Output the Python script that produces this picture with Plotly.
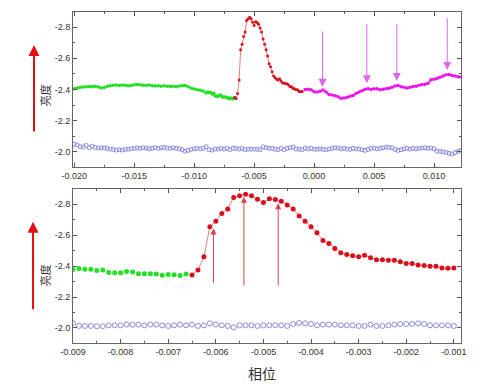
import plotly.graph_objects as go

# ---------------- data ----------------
# top panel, left part (x from -0.020, step 0.00025)
TOP_LEFT_X0, TOP_STEP = -0.020, 0.00025
top_green_left = [-2.405, -2.410, -2.414, -2.416, -2.418, -2.419, -2.417, -2.421, -2.416, -2.410,
                  -2.412, -2.420, -2.424, -2.427, -2.428, -2.426, -2.429, -2.427, -2.423, -2.426,
                  -2.430, -2.432, -2.430, -2.427, -2.425, -2.428, -2.424, -2.422, -2.423, -2.421,
                  -2.424, -2.420, -2.419, -2.421, -2.418, -2.422, -2.424, -2.425, -2.418, -2.408,
                  -2.403, -2.398, -2.395, -2.390]
top_blue_left = [-2.049, -2.045, -2.034, -2.030, -2.041, -2.026, -2.036, -2.028, -2.024, -2.026,
                 -2.024, -2.022, -2.017, -2.015, -2.011, -2.013, -2.011, -2.015, -2.017, -2.019,
                 -2.022, -2.024, -2.022, -2.026, -2.024, -2.019, -2.022, -2.026, -2.022, -2.026,
                 -2.028, -2.024, -2.022, -2.026, -2.022, -2.019, -2.013, -2.004, -2.009, -2.015,
                 -2.019, -2.022, -2.019, -2.022]

# middle part shared by both panels (x from -0.009, step 0.000125)
MID_X0, MID_STEP = -0.009, 0.000125
bot_green = [-2.377, -2.384, -2.380, -2.380, -2.371, -2.375, -2.358, -2.356, -2.356, -2.364,
             -2.362, -2.351, -2.351, -2.351, -2.349, -2.341, -2.345, -2.343, -2.339, -2.349]
bot_red = [-2.342, -2.374, -2.460, -2.654, -2.690, -2.740, -2.768, -2.843, -2.854, -2.863,
           -2.854, -2.832, -2.811, -2.834, -2.830, -2.819, -2.794, -2.768, -2.724, -2.690,
           -2.654, -2.615, -2.565, -2.546, -2.514, -2.486, -2.475, -2.466, -2.460, -2.469,
           -2.454, -2.441, -2.441, -2.437, -2.437, -2.428, -2.417, -2.417, -2.406, -2.404,
           -2.398, -2.398, -2.387, -2.385, -2.387]
bot_blue = [-2.032, -2.013, -2.013, -2.013, -2.011, -2.011, -2.017, -2.017, -2.017, -2.022,
            -2.022, -2.022, -2.017, -2.022, -2.022, -2.017, -2.013, -2.017, -2.022, -2.017,
            -2.022, -2.013, -2.017, -2.030, -2.022, -2.017, -2.013, -2.004, -2.017, -2.017,
            -2.017, -2.013, -2.017, -2.017, -2.017, -2.017, -2.013, -2.026, -2.032, -2.030,
            -2.026, -2.017, -2.022, -2.022, -2.022, -2.017, -2.017, -2.017, -2.013, -2.013,
            -2.022, -2.013, -2.013, -2.017, -2.022, -2.026, -2.026, -2.026, -2.030, -2.026,
            -2.017, -2.017, -2.017, -2.017, -2.013]

# top panel, right part (x from -0.00075, step 0.00025)
TOP_RIGHT_X0 = -0.00075
top_magenta = [-2.400, -2.401, -2.398, -2.385, -2.384, -2.388, -2.396, -2.383, -2.368, -2.364,
               -2.360, -2.353, -2.342, -2.345, -2.350, -2.356, -2.362, -2.374, -2.383, -2.391,
               -2.402, -2.404, -2.400, -2.404, -2.405, -2.398, -2.402, -2.404, -2.408, -2.414,
               -2.422, -2.425, -2.418, -2.414, -2.409, -2.414, -2.419, -2.421, -2.427, -2.431,
               -2.434, -2.440, -2.462, -2.466, -2.470, -2.478, -2.486, -2.494, -2.496, -2.490,
               -2.487, -2.482, -2.480]
top_blue_right = [-2.024, -2.019, -2.022, -2.017, -2.015, -2.019, -2.015, -2.013, -2.017, -2.022,
                  -2.026, -2.024, -2.019, -2.022, -2.017, -2.015, -2.022, -2.019, -2.017, -2.013,
                  -2.009, -2.015, -2.022, -2.024, -2.019, -2.022, -2.026, -2.030, -2.028, -2.026,
                  -2.015, -2.009, -2.013, -2.019, -2.022, -2.017, -2.022, -2.019, -2.022, -2.024,
                  -2.026, -2.022, -2.024, -2.019, -2.004, -2.002, -2.000, -1.996, -1.990, -1.986,
                  -1.994, -2.002, -2.009]

# arrows (x, tail y, head y)
top_arrows = [(0.0007, -2.783, -2.418), (0.0044, -2.830, -2.440),
              (0.0069, -2.830, -2.455), (0.0111, -2.868, -2.525)]
bot_arrows = [(-0.00605, -2.282, -2.643), (-0.00541, -2.266, -2.847),
              (-0.00469, -2.266, -2.805)]

top_xticks = [-0.020, -0.015, -0.010, -0.005, 0.000, 0.005, 0.010]
bot_xticks = [-0.009, -0.008, -0.007, -0.006, -0.005, -0.004, -0.003, -0.002, -0.001]
yticks = [-2.8, -2.6, -2.4, -2.2, -2.0]


def xs(x0, step, n, offset=0):
    return [round(x0 + (offset + i) * step, 7) for i in range(n)]


x_top_left = xs(TOP_LEFT_X0, TOP_STEP, len(top_green_left))
x_green = xs(MID_X0, MID_STEP, len(bot_green))
x_red = xs(MID_X0, MID_STEP, len(bot_red), len(bot_green))
x_blue_mid = xs(MID_X0, MID_STEP, len(bot_blue))
x_top_right = xs(TOP_RIGHT_X0, TOP_STEP, len(top_magenta))

GREEN = "#22e022"
RED = "#d8101e"
RED_LINE = "#f07a7a"
MAGENTA = "#ee10ee"
BLUE = "#8a8ae0"

fig = go.Figure()

# ---- top panel ----
fig.add_trace(go.Scatter(x=x_top_left + x_green, y=top_green_left + bot_green,
                         mode="lines+markers", line=dict(color=GREEN, width=1.5),
                         marker=dict(color=GREEN, size=3.5), xaxis="x", yaxis="y"))
fig.add_trace(go.Scatter(x=[x_green[-1]] + x_red, y=[bot_green[-1]] + bot_red,
                         mode="lines+markers", line=dict(color=RED_LINE, width=1),
                         marker=dict(color=RED, size=3), xaxis="x", yaxis="y"))
fig.add_trace(go.Scatter(x=x_top_right, y=top_magenta,
                         mode="lines+markers", line=dict(color=MAGENTA, width=1.5),
                         marker=dict(color=MAGENTA, size=3.5), xaxis="x", yaxis="y"))
fig.add_trace(go.Scatter(x=x_top_left + x_blue_mid[::2] + x_top_right,
                         y=top_blue_left + bot_blue[::2] + top_blue_right,
                         mode="markers",
                         marker=dict(color=BLUE, size=4, symbol="circle-open",
                                     line=dict(width=1)),
                         xaxis="x", yaxis="y"))

# ---- bottom panel ----
fig.add_trace(go.Scatter(x=x_green, y=bot_green, mode="markers",
                         marker=dict(color=GREEN, size=5), xaxis="x2", yaxis="y2"))
fig.add_trace(go.Scatter(x=x_red, y=bot_red, mode="lines+markers",
                         line=dict(color=RED_LINE, width=1),
                         marker=dict(color=RED, size=5), xaxis="x2", yaxis="y2"))
fig.add_trace(go.Scatter(x=x_blue_mid, y=bot_blue, mode="markers",
                         marker=dict(size=5, symbol="circle-open", color=BLUE,
                                     line=dict(width=1)),
                         xaxis="x2", yaxis="y2"))

tickfont = dict(family="Liberation Sans, Arial", size=9, color="#333")


def fmt(v, d):
    s = f"{v:.{d}f}"
    return "0." + "0" * d if s.startswith("-") and float(s) == 0 else s


def xaxis(domain_anchor, ticks, dec, rng, minor):
    return dict(range=rng, tickvals=ticks, ticktext=[fmt(t, dec) for t in ticks],
                ticks="inside", ticklen=4, tickcolor="#555", mirror="ticks",
                showline=True, linecolor="#666", linewidth=1, showgrid=False,
                zeroline=False, tickfont=tickfont, anchor=domain_anchor,
                minor=dict(dtick=minor, ticks="inside", ticklen=2, tickcolor="#555"))


def yaxis(domain, anchor):
    return dict(domain=domain, range=[-1.903, -2.897], tickvals=yticks,
                ticktext=[f"{t:.1f}" for t in yticks],
                ticks="inside", ticklen=4, tickcolor="#555", mirror="ticks",
                showline=True, linecolor="#666", linewidth=1, showgrid=False,
                zeroline=False, tickfont=tickfont, anchor=anchor,
                minor=dict(dtick=0.1, ticks="inside", ticklen=2, tickcolor="#555"))


ann = []
for (x, yt, yh) in top_arrows:
    ann.append(dict(x=x, y=yh, ax=x, ay=yt, xref="x", yref="y", axref="x", ayref="y",
                    showarrow=True, arrowhead=2, arrowsize=1.6, arrowwidth=1,
                    arrowcolor="#dd66ee", text=""))
for (x, yt, yh) in bot_arrows:
    ann.append(dict(x=x, y=yh, ax=x, ay=yt, xref="x2", yref="y2", axref="x2", ayref="y2",
                    showarrow=True, arrowhead=2, arrowsize=1.2, arrowwidth=1,
                    arrowcolor="#d84050", text=""))
# left red arrows
ann.append(dict(x=-0.1005, y=0.900, xref="paper", yref="paper", ax=0, ay=88,
                showarrow=True, arrowhead=2, arrowsize=1.1, arrowwidth=2,
                arrowcolor="#e01010", text=""))
ann.append(dict(x=-0.1030, y=0.366, xref="paper", yref="paper", ax=0, ay=89,
                showarrow=True, arrowhead=2, arrowsize=1.1, arrowwidth=2,
                arrowcolor="#e01010", text=""))
# axis titles
for yy in (0.749, 0.205):
    ann.append(dict(x=-0.072, y=yy, xref="paper", yref="paper", text="亮度",
                    textangle=-90, showarrow=False, xanchor="center", yanchor="middle",
                    font=dict(family="Noto Sans CJK SC", size=11, color="#333")))
ann.append(dict(x=0.487, y=-0.09, xref="paper", yref="paper", text="相位",
                showarrow=False, xanchor="center", yanchor="middle",
                font=dict(family="Noto Sans CJK SC", size=14, color="#333")))

# page body has an 8px default margin, so the figure is sized/positioned to compensate
fig.update_layout(
    width=488, height=384,
    margin=dict(l=65, r=35, t=4, b=49),
    paper_bgcolor="white", plot_bgcolor="white",
    showlegend=False,
    xaxis=xaxis("y", top_xticks, 3, [-0.0201, 0.01225], 0.0025),
    yaxis=yaxis([0.532, 1.0], "x"),
    xaxis2=xaxis("y2", bot_xticks, 3, [-0.009, -0.00085], 0.0005),
    yaxis2=yaxis([0.0, 0.465], "x2"),
    annotations=ann,
)

fig.write_html("out.html")
